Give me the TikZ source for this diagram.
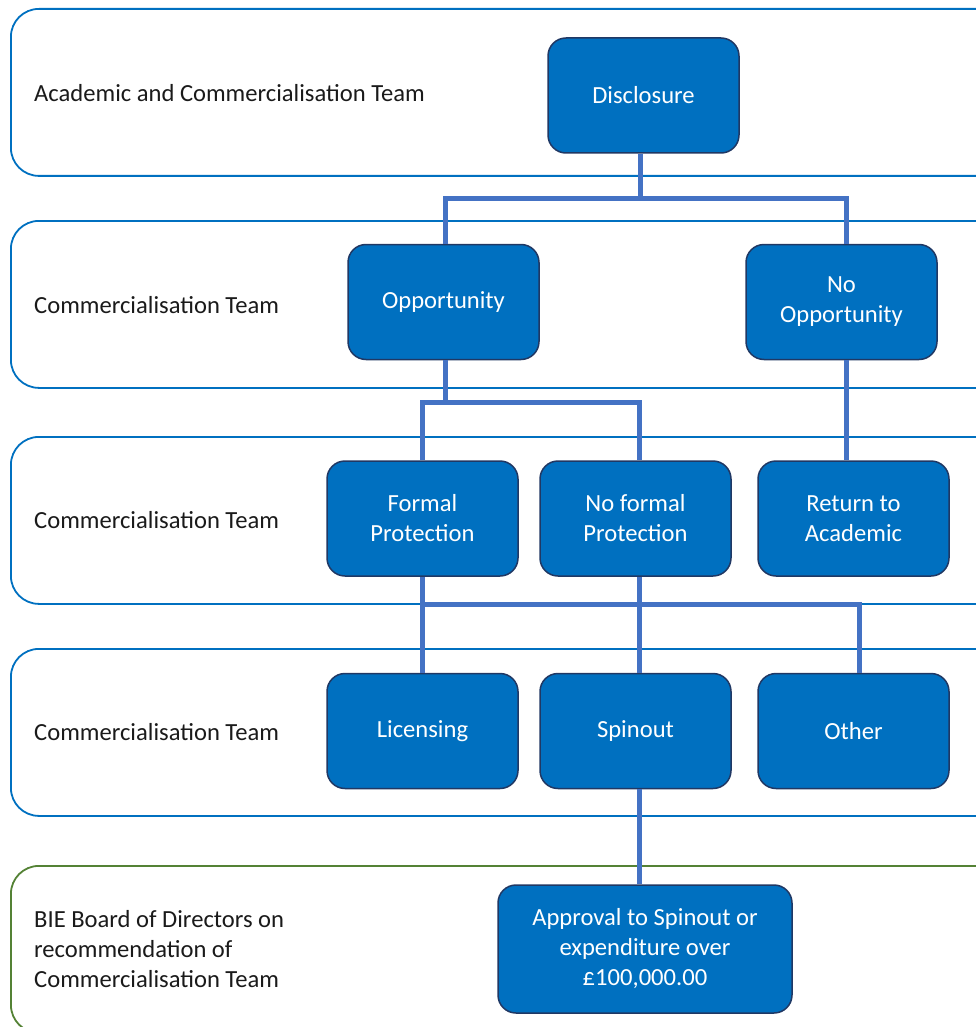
\documentclass[tikz,border=0pt]{standalone}
\usepackage{fontspec}
\setmainfont{Carlito}
\usetikzlibrary{positioning}
\definecolor{boxblue}{HTML}{0070C0}
\definecolor{boxedge}{HTML}{203864}
\definecolor{linkblue}{HTML}{4472C4}
\definecolor{lanegreen}{HTML}{548235}
\definecolor{lanetextcol}{HTML}{1A1A1A}

\begin{document}
\begin{tikzpicture}[
  x=1pt,y=-1pt,
  lane/.style={draw=boxblue,line width=1.8pt,rounded corners=28pt,
    minimum width=1000pt,minimum height=167pt,anchor=north west,inner sep=0pt},
  stepbox/.style={draw=boxedge,line width=1.5pt,fill=boxblue,rounded corners=18pt,
    minimum width=191pt,minimum height=115pt,text=white,align=center,
    font=\fontsize{24.6}{30}\selectfont},
  lanetext/.style={anchor=west,align=left,text=lanetextcol,inner sep=0pt,
    font=\fontsize{24.6}{30}\selectfont},
  link/.style={draw=linkblue,line width=5pt}
]
  \useasboundingbox (0,0) rectangle (976,1027);

  % Lanes (top->bottom)
  \node[lane]                  (lane1) at (10,8)   {};
  \node[lane]                  (lane2) at (10,220) {};
  \node[lane]                  (lane3) at (10,436) {};
  \node[lane]                  (lane4) at (10,648) {};
  \node[lane, draw=lanegreen]  (lane5) at (10,865) {};

  \node[lanetext] (who1) at (34,93)  {Academic and Commercialisation Team};
  \node[lanetext] (who2) at (34,305) {Commercialisation Team};
  \node[lanetext] (who3) at (34,520) {Commercialisation Team};
  \node[lanetext] (who4) at (34,732) {Commercialisation Team};
  \node[lanetext] (who5) at (34,949) {BIE Board of Directors on\\recommendation of\\Commercialisation Team};

  % Steps
  \node[stepbox] (disc)     at (643.5,95.5) {Disclosure};
  \node[stepbox] (opp)      at (443.5,302)  {Opportunity};
  \node[stepbox] (noopp)    at (841.5,302)  {No\\Opportunity};
  \node[stepbox] (formal)   at (422.5,518.5) {Formal\\Protection};
  \node[stepbox] (noformal) at (635.5,518.5) {No formal\\Protection};
  \node[stepbox] (return)   at (853.5,518.5) {Return to\\Academic};
  \node[stepbox] (lic)      at (422.5,731)  {Licensing};
  \node[stepbox] (spin)     at (635.5,731)  {Spinout};
  \node[stepbox] (other)    at (853.5,731)  {Other};
  \node[stepbox, minimum width=294pt, minimum height=128pt]
                 (approve)  at (645,949)    {Approval to Spinout or\\expenditure over\\£100,000.00};

  % Links
  \draw[link] ([xshift=-3.5pt]disc.south) -- ++(0,45) coordinate (j1);
  \draw[link] ([xshift=1.5pt]opp.north) |- (j1) -| ([xshift=4.5pt]noopp.north);

  \draw[link] ([xshift=1.5pt]opp.south) -- ++(0,42) coordinate (j2);
  \draw[link] (formal.north) |- (j2) -| ([xshift=3.5pt]noformal.north);

  \draw[link] ([xshift=4.5pt]noopp.south) -- ([xshift=-7.5pt]return.north);

  \draw[link] (formal.south) -- ++(0,28) coordinate (j3);
  \draw[link] ([xshift=3.5pt]noformal.south) -- ([xshift=3.5pt]spin.north);
  \draw[link] (lic.north) |- (j3) -| ([xshift=5.5pt]other.north);

  \draw[link] ([xshift=3.5pt]spin.south) -- ([xshift=-6pt]approve.north);
\end{tikzpicture}
\end{document}
